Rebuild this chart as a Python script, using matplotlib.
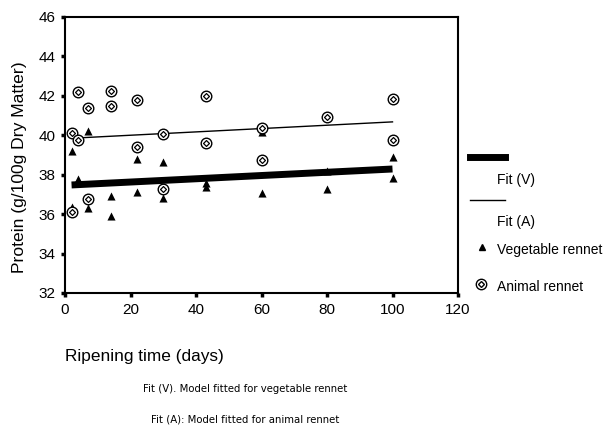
import matplotlib.pyplot as plt

plt.rcParams['font.family'] = ['Liberation Sans', 'DejaVu Sans']

# Animal rennet (circles)
animal_days = [2, 2, 4, 4, 7, 7, 14, 14, 22, 22, 30, 30, 43, 43, 60, 60, 80, 100, 100]
animal_protein = [40.12, 36.13, 42.19, 39.77, 41.4, 36.76, 42.25, 41.5, 41.8, 39.43,
                  40.04, 37.3, 41.97, 39.63, 40.36, 38.75, 40.92, 41.83, 39.77]

# Vegetable rennet (triangles)
veg_days = [2, 2, 4, 7, 7, 14, 14, 22, 22, 30, 30, 43, 43, 60, 60, 80, 80, 100, 100]
veg_protein = [39.2, 36.38, 37.77, 40.24, 36.3, 36.92, 35.9, 38.79, 37.13, 38.65,
               36.8, 37.6, 37.4, 40.15, 37.06, 37.28, 38.2, 38.89, 37.82]

# Fitted models, evaluated at the ends of the ripening period
fit_days = [2, 100]
fit_v = [37.48, 38.29]
fit_a = [39.85, 40.68]

fig = plt.figure(figsize=(6.1, 4.29), dpi=100)
ax = fig.add_axes([65 / 610, 1 - 293 / 429, 393 / 610, 276 / 429])

ax.plot(fit_days, fit_v, color='black', linewidth=5, solid_capstyle='butt', label='Fit (V)')
ax.plot(fit_days, fit_a, color='black', linewidth=1, label='Fit (A)')
ax.scatter(veg_days, veg_protein, marker='^', s=34, color='black', linewidths=0,
           label='Vegetable rennet', zorder=3)
ax.scatter(animal_days, animal_protein, marker='o', s=58, facecolor='white',
           edgecolor='black', linewidths=1.0, label='Animal rennet', zorder=4)
ax.scatter(animal_days, animal_protein, marker='D', s=9, facecolor='white',
           edgecolor='black', linewidths=0.9, zorder=5)

ax.set_xlim(0, 120)
ax.set_ylim(32, 46)
ax.set_xticks(range(0, 121, 20))
ax.set_yticks(range(32, 47, 2))
ax.tick_params(direction='out', length=3, width=2.5, labelsize=11, pad=4)
for s in ax.spines.values():
    s.set_linewidth(1.5)

fig.text(20 / 610, 1 - 167 / 429, 'Protein (g/100g Dry Matter)', fontsize=12.6,
         rotation=90, ha='center', va='center')

# legend drawn by hand to copy the stacked layout of the original
fig.lines.append(plt.Line2D([470 / 610, 505 / 610], [1 - 157 / 429] * 2,
                            transform=fig.transFigure, color='black', linewidth=5))
fig.lines.append(plt.Line2D([470 / 610, 505 / 610], [1 - 200 / 429] * 2,
                            transform=fig.transFigure, color='black', linewidth=1))
fig.text(497 / 610, 1 - 180 / 429, 'Fit (V)', fontsize=10, va='center')
fig.text(497 / 610, 1 - 222 / 429, 'Fit (A)', fontsize=10, va='center')
fig.text(497 / 610, 1 - 250 / 429, 'Vegetable rennet', fontsize=10, va='center')
fig.text(497 / 610, 1 - 287 / 429, 'Animal rennet', fontsize=10, va='center')
fig.add_artist(plt.Line2D([482 / 610], [1 - 247 / 429], transform=fig.transFigure,
                          marker='^', markersize=5, color='black', linestyle='none'))
fig.add_artist(plt.Line2D([481 / 610], [1 - 284 / 429], transform=fig.transFigure,
                          marker='o', markersize=7.5, markerfacecolor='white',
                          markeredgecolor='black', linestyle='none'))
fig.add_artist(plt.Line2D([481 / 610], [1 - 284 / 429], transform=fig.transFigure,
                          marker='D', markersize=3, markerfacecolor='white',
                          markeredgecolor='black', linestyle='none'))

fig.text(65 / 610, 1 - 356 / 429, 'Ripening time (days)', fontsize=12.4, va='center')
fig.text(245 / 610, 1 - 389 / 429, 'Fit (V). Model fitted for vegetable rennet',
         fontsize=7.3, ha='center', va='center', family='DejaVu Sans')
fig.text(245 / 610, 1 - 420 / 429, 'Fit (A): Model fitted for animal rennet',
         fontsize=7.3, ha='center', va='center', family='DejaVu Sans')

fig.savefig('out.png', dpi=100)
